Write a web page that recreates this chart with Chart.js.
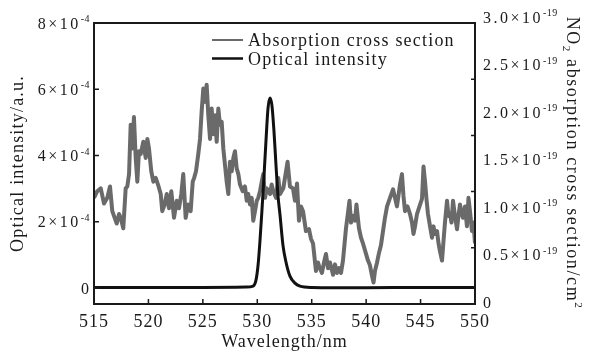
<!DOCTYPE html>
<html>
<head>
<meta charset="utf-8">
<title>NO2 absorption cross section and optical intensity</title>
<script src="https://cdn.jsdelivr.net/npm/chart.js@4.4.0/dist/chart.umd.min.js"></script>
<style>
  html, body { margin: 0; padding: 0; background: #fff; }
  #chart { display: block; }
</style>
</head>
<body>
<canvas id="chart" width="590" height="356"></canvas>
<script>
// ----- DATA -----
// NO2 absorption cross section, in units of 1e-19 cm^2 (right axis)
const absWavelength = [
  515.00, 515.30, 515.62, 515.92, 516.22, 516.47, 516.68, 516.90, 517.09, 517.30,
  517.45, 517.69, 517.91, 518.06, 518.22, 518.37, 518.52, 518.67, 518.83, 518.98,
  519.13, 519.29, 519.53, 519.75, 519.90, 520.05, 520.26, 520.45, 520.67, 520.88,
  521.13, 521.27, 521.49, 521.68, 521.89, 522.10, 522.35, 522.60, 522.81, 523.02,
  523.20, 523.42, 523.64, 523.88, 524.07, 524.20, 524.37, 524.58, 524.74, 524.89,
  525.04, 525.20, 525.35, 525.50, 525.66, 525.81, 525.96, 526.12, 526.27, 526.42,
  526.57, 526.73, 526.88, 527.03, 527.19, 527.34, 527.49, 527.65, 527.80, 527.95,
  528.11, 528.26, 528.41, 528.66, 528.87, 529.03, 529.17, 529.33, 529.49, 529.63,
  529.79, 529.95, 530.09, 530.25, 530.41, 530.55, 530.71, 530.86, 531.17, 531.32,
  531.47, 531.72, 531.93, 532.09, 532.39, 532.64, 532.78, 533.00, 533.28, 533.46,
  533.65, 533.83, 534.02, 534.20, 534.47, 534.75, 534.93, 535.12, 535.39, 535.58,
  535.71, 535.94, 536.13, 536.31, 536.50, 536.68, 536.96, 537.14, 537.32, 537.51,
  537.69, 537.87, 538.15, 538.33, 538.47, 538.61, 538.79, 538.98, 539.11, 539.34,
  539.53, 539.71, 539.99, 540.17, 540.35, 540.54, 540.68, 540.81, 541.00, 541.18,
  541.36, 541.55, 541.73, 541.92, 542.19, 542.47, 542.65, 542.83, 543.11, 543.29,
  543.43, 543.57, 543.80, 544.03, 544.21, 544.35, 544.49, 544.67, 544.90, 545.13,
  545.27, 545.41, 545.54, 545.68, 545.87, 546.05, 546.19, 546.32, 546.51, 546.65,
  546.78, 546.97, 547.11, 547.24, 547.43, 547.56, 547.70, 547.84, 547.98, 548.16,
  548.35, 548.48, 548.62, 548.76, 548.90, 549.08, 549.26, 549.40, 549.54, 549.72,
  549.86, 550.00
];
const absCrossSection = [
  1.10, 1.17, 1.20, 1.04, 1.10, 1.22, 0.96, 0.89, 0.83, 0.93,
  0.89, 0.78, 1.20, 1.22, 1.35, 1.87, 1.62, 1.95, 1.52, 1.27,
  1.59, 1.56, 1.69, 1.52, 1.72, 1.62, 1.38, 1.27, 1.31, 1.24,
  1.14, 0.96, 1.03, 1.14, 0.99, 1.17, 0.89, 1.07, 0.99, 1.14,
  1.35, 0.89, 1.03, 0.96, 1.27, 1.31, 1.38, 1.56, 1.72, 2.01,
  2.25, 2.11, 2.29, 1.97, 1.72, 2.04, 1.77, 1.97, 1.69, 2.04,
  1.87, 1.90, 1.62, 1.45, 1.27, 1.14, 1.48, 1.38, 1.52, 1.59,
  1.41, 1.35, 1.24, 1.17, 1.22, 1.07, 1.14, 1.03, 1.10, 0.86,
  0.96, 1.07, 1.10, 1.17, 1.27, 1.35, 1.10, 1.20, 1.14, 1.24,
  1.17, 1.10, 1.31, 1.14, 1.20, 1.38, 1.48, 1.22, 1.20, 1.07,
  1.25, 0.86, 1.01, 0.96, 0.75, 0.77, 0.67, 0.62, 0.33, 0.42,
  0.37, 0.31, 0.42, 0.51, 0.36, 0.42, 0.29, 0.40, 0.31, 0.36,
  0.31, 0.44, 0.78, 0.94, 1.07, 0.84, 0.91, 0.86, 1.03, 0.78,
  0.68, 0.62, 0.51, 0.44, 0.39, 0.28, 0.21, 0.33, 0.42, 0.52,
  0.60, 0.75, 0.89, 1.01, 1.10, 1.19, 1.10, 1.01, 1.24, 1.35,
  1.12, 0.96, 1.01, 0.93, 0.84, 0.72, 0.80, 0.93, 1.01, 1.09,
  1.43, 1.27, 1.09, 0.93, 0.80, 0.68, 0.80, 0.72, 0.75, 0.62,
  0.54, 0.44, 0.65, 0.84, 1.07, 0.91, 0.94, 0.84, 1.07, 0.91,
  0.77, 0.91, 1.03, 0.94, 0.89, 1.01, 0.80, 1.10, 0.96, 0.75,
  0.84, 0.62
];

// laser optical intensity, in units of 1e-4 a.u. (left axis)
const intensityWavelength = [
  515, 520, 525, 529, 529.61, 529.88, 530.07, 530.25, 530.43, 530.62,
  530.80, 530.98, 531.17, 531.35, 531.53, 531.72, 531.90, 532.09, 532.36, 532.64,
  533.00, 533.46, 533.92, 535, 540, 545, 550
];
const intensityValues = [
  0.02, 0.02, 0.02, 0.03, 0.06, 0.24, 0.69, 1.44, 2.35, 3.40,
  4.45, 5.41, 5.74, 5.50, 4.75, 3.70, 2.80, 2.20, 1.29, 0.78,
  0.36, 0.15, 0.06, 0.02, 0.01, 0.02, 0.02
];

const seriesNames = ['Absorption cross section', 'Optical intensity'];
const leftTicks = [0, 2, 4, 6, 8];                 // x1e-4
const rightTicks = [0, 0.5, 1.0, 1.5, 2.0, 2.5, 3.0]; // x1e-19

const SERIF = '"Liberation Serif", "Times New Roman", serif';
const INK = '#1a1a1a';
const GREY = '#6a6a6a';

// draws "8x10" with a small raised exponent, anchored left or right
function drawSci(ctx, main, sup, x, y, align, spacing) {
  ctx.font = '16px ' + SERIF;
  ctx.letterSpacing = spacing;
  const wMain = ctx.measureText(main).width;
  ctx.font = '10px ' + SERIF;
  ctx.letterSpacing = '0.5px';
  const wSup = sup ? ctx.measureText(sup).width : 0;
  const x0 = align === 'right' ? x - wMain - wSup : x;
  ctx.textAlign = 'left';
  ctx.textBaseline = 'alphabetic';
  ctx.font = '16px ' + SERIF;
  ctx.letterSpacing = spacing;
  ctx.fillText(main, x0, y + 5.5);
  if (sup) {
    ctx.font = '10px ' + SERIF;
    ctx.letterSpacing = '0.5px';
    ctx.fillText(sup, x0 + wMain, y - 1);
  }
}

// ----- FRAME, INWARD TICKS, TICK LABELS, TITLES, LEGEND -----
const decor = {
  id: 'decor',
  beforeDraw(chart) {
    chart.ctx.letterSpacing = '1px';
  },
  afterDatasetsDraw(chart) {
    const { ctx, chartArea: a, scales } = chart;
    ctx.save();
    ctx.strokeStyle = INK;
    ctx.fillStyle = INK;

    // inward tick marks
    ctx.beginPath();
    scales.x.ticks.forEach(t => {
      const px = scales.x.getPixelForValue(t.value);
      ctx.moveTo(px, a.bottom);
      ctx.lineTo(px, a.bottom - 5);
    });
    leftTicks.forEach(v => {
      const py = scales.y.getPixelForValue(v);
      ctx.moveTo(a.left, py);
      ctx.lineTo(a.left + 5, py);
    });
    for (let i = 1; i < 5; i++) {
      const py = a.top + (a.bottom - a.top) * i / 5;
      ctx.moveTo(a.right, py);
      ctx.lineTo(a.right - 4, py);
    }
    ctx.lineWidth = 1.5;
    ctx.stroke();

    // frame
    ctx.lineWidth = 2;
    ctx.strokeRect(a.left, a.top, a.right - a.left, a.bottom - a.top);

    // left tick labels
    leftTicks.forEach(v => {
      const py = scales.y.getPixelForValue(v);
      if (v === 0) drawSci(ctx, '0', '', a.left - 5, py, 'right', '0px');
      else drawSci(ctx, v + '\u00d710', '-4', a.left - 4, py, 'right', '2.5px');
    });

    // right tick labels
    rightTicks.forEach(v => {
      const py = scales.y1.getPixelForValue(v);
      if (v === 0) drawSci(ctx, '0', '', a.right + 8, py, 'left', '0px');
      else drawSci(ctx, v.toFixed(1) + '\u00d710', '-19', a.right + 8, py, 'left', '2.5px');
    });

    // left axis title
    ctx.save();
    ctx.translate(16.5, (a.top + a.bottom) / 2);
    ctx.rotate(-Math.PI / 2);
    ctx.font = '18px ' + SERIF;
    ctx.letterSpacing = '1.2px';
    ctx.textAlign = 'center';
    ctx.textBaseline = 'alphabetic';
    ctx.fillText('Optical intensity/a.u.', 0, 6);
    ctx.restore();

    // right axis title: NO2 absorption cross section/cm2
    ctx.save();
    ctx.translate(573, 163);
    ctx.rotate(Math.PI / 2);
    ctx.textAlign = 'left';
    ctx.textBaseline = 'alphabetic';
    const parts = [
      { t: 'NO', size: 18, dy: 0 },
      { t: '2', size: 11, dy: 4 },
      { t: ' absorption cross section/cm', size: 18, dy: 0 },
      { t: '2', size: 11, dy: -8 }
    ];
    ctx.letterSpacing = '1.6px';
    let total = 0;
    parts.forEach(p => { ctx.font = p.size + 'px ' + SERIF; p.w = ctx.measureText(p.t).width; total += p.w; });
    let cx = -total / 2;
    parts.forEach(p => {
      ctx.font = p.size + 'px ' + SERIF;
      ctx.fillText(p.t, cx, 6 + p.dy);
      cx += p.w;
    });
    ctx.restore();

    // legend
    const legendRows = [
      { ds: chart.data.datasets[0], y: 40, w: 2 },
      { ds: chart.data.datasets[1], y: 58.5, w: 2.5 }
    ];
    ctx.font = '18px ' + SERIF;
    ctx.letterSpacing = '1.2px';
    ctx.textAlign = 'left';
    ctx.textBaseline = 'alphabetic';
    legendRows.forEach(r => {
      ctx.beginPath();
      ctx.moveTo(212, r.y);
      ctx.lineTo(243, r.y);
      ctx.strokeStyle = r.ds.borderColor;
      ctx.lineWidth = r.w;
      ctx.stroke();
      ctx.fillStyle = INK;
      ctx.fillText(r.ds.label, 248, r.y + 6);
    });

    ctx.restore();
  }
};

const ctx = document.getElementById('chart').getContext('2d');
new Chart(ctx, {
  type: 'line',
  data: {
    datasets: [
      {
        label: seriesNames[0],
        data: absWavelength.map((x, i) => ({ x: x, y: absCrossSection[i] })),
        yAxisID: 'y1',
        borderColor: GREY,
        borderWidth: 4,
        borderJoinStyle: 'round',
        pointRadius: 0,
        tension: 0,
        order: 1
      },
      {
        label: seriesNames[1],
        data: intensityWavelength.map((x, i) => ({ x: x, y: intensityValues[i] })),
        yAxisID: 'y',
        borderColor: '#111',
        borderWidth: 3,
        pointRadius: 0,
        cubicInterpolationMode: 'monotone',
        order: 0
      }
    ]
  },
  options: {
    responsive: false,
    animation: false,
    layout: { padding: { top: 23, left: 0, right: 0, bottom: 0 } },
    plugins: { legend: { display: false }, tooltip: { enabled: false } },
    scales: {
      x: {
        type: 'linear',
        min: 515,
        max: 550,
        ticks: { stepSize: 5, padding: 7, maxRotation: 0, color: INK, font: { family: SERIF, size: 18 } },
        grid: { display: false, drawTicks: false },
        border: { display: false },
        title: {
          display: true,
          text: 'Wavelength/nm',
          color: INK,
          font: { family: SERIF, size: 18 },
          padding: { top: 0, bottom: 3 }
        },
        afterFit: s => { s.height = 52; }
      },
      y: {
        position: 'left',
        min: -0.48,
        max: 8,
        ticks: { display: false },
        grid: { display: false, drawTicks: false },
        border: { display: false },
        afterFit: s => { s.width = 94; }
      },
      y1: {
        position: 'right',
        min: -0.017,
        max: 2.94,
        ticks: { display: false },
        grid: { display: false, drawTicks: false },
        border: { display: false },
        afterFit: s => { s.width = 115; }
      }
    }
  },
  plugins: [decor]
});
</script>
</body>
</html>
